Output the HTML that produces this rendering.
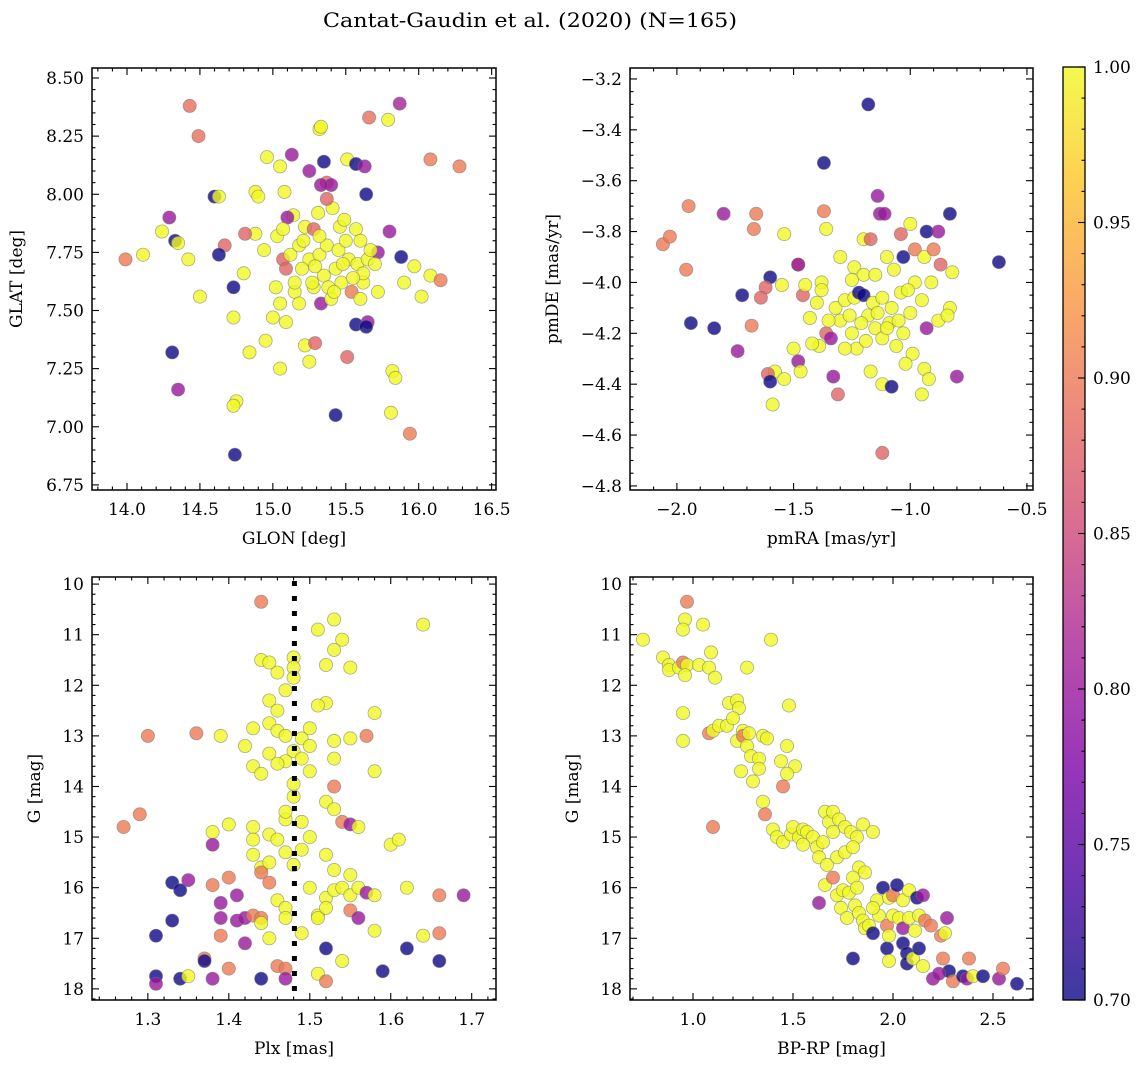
<!DOCTYPE html>
<html><head><meta charset="utf-8">
<style>
html,body{margin:0;padding:0;background:#fff;}
svg{display:block;font-family:"DejaVu Serif","Liberation Serif",serif;}
</style></head>
<body>
<svg id="fig" width="1148" height="1067" viewBox="0 0 1148 1067" xmlns="http://www.w3.org/2000/svg">
<defs>
<linearGradient id="plasma" x1="0" y1="1" x2="0" y2="0">
<stop offset="0" stop-color="#0d0887"/>
<stop offset="0.13" stop-color="#4c02a1"/>
<stop offset="0.25" stop-color="#7e03a8"/>
<stop offset="0.38" stop-color="#a82296"/>
<stop offset="0.5" stop-color="#cc4778"/>
<stop offset="0.63" stop-color="#e66c5c"/>
<stop offset="0.75" stop-color="#f89540"/>
<stop offset="0.88" stop-color="#fdc527"/>
<stop offset="1" stop-color="#f0f921"/>
</linearGradient>
</defs>
<text x="530" y="27" font-size="20" text-anchor="middle" textLength="414" lengthAdjust="spacingAndGlyphs">Cantat-Gaudin et al. (2020) (N=165)</text>
</svg>
<script>
// ---- data: panel 1 (GLON, GLAT, membership prob) ----
const glon1 = [14.43,14.49,15.87,15.66,15.79,15.32,15.33,16.08,16.28,15.13,14.96,15.25,15.35,15.51,15.57,15.63,15.05,14.60,14.63,14.88,14.90,15.08,15.37,15.40,15.33,15.64,15.41,15.37,15.31,15.14,15.10,14.29,14.24,14.88,14.81,15.03,15.07,15.22,15.28,15.46,15.49,15.57,15.60,15.80,14.33,14.35,14.67,14.63,14.42,14.11,13.99,14.80,14.94,15.07,15.12,15.18,15.25,15.32,15.37,15.45,15.52,15.58,15.65,15.72,15.88,15.97,16.08,16.15,14.73,14.50,15.05,15.15,15.28,15.33,15.40,15.47,15.54,15.62,15.72,15.90,16.02,15.00,14.73,15.09,15.22,15.29,15.57,15.65,15.64,14.95,14.84,14.31,15.51,15.25,15.05,15.82,15.84,14.35,14.75,14.73,15.43,15.81,15.94,14.74,15.20,15.35,15.43,15.27,15.48,15.62,15.15,15.38,15.42,15.55,15.67,15.50,15.29,15.21,15.09,15.60,15.32,15.02,15.18,15.70];
const glat1 = [8.38,8.25,8.39,8.33,8.32,8.28,8.29,8.15,8.12,8.17,8.16,8.10,8.14,8.15,8.13,8.12,8.12,7.99,7.99,8.01,7.99,8.01,8.05,8.04,8.04,8.00,7.94,7.98,7.92,7.91,7.90,7.90,7.84,7.83,7.83,7.82,7.85,7.86,7.85,7.86,7.89,7.85,7.80,7.84,7.80,7.79,7.78,7.74,7.72,7.74,7.72,7.66,7.76,7.72,7.74,7.78,7.72,7.74,7.78,7.76,7.72,7.70,7.72,7.75,7.73,7.69,7.65,7.63,7.60,7.56,7.53,7.58,7.60,7.53,7.55,7.62,7.58,7.62,7.58,7.62,7.56,7.47,7.47,7.45,7.35,7.36,7.44,7.45,7.43,7.37,7.32,7.32,7.30,7.28,7.25,7.24,7.21,7.16,7.11,7.09,7.05,7.06,6.97,6.88,7.68,7.65,7.68,7.62,7.70,7.66,7.62,7.60,7.58,7.64,7.76,7.80,7.69,7.80,7.68,7.55,7.82,7.60,7.53,7.70];
const prob1 = [0.89,0.89,0.81,0.89,1,1,1,0.9,0.9,0.8,1,0.8,0.7,1,0.7,0.8,1,0.7,1,1,1,1,0.88,0.8,0.8,0.7,1,0.88,1,1,0.8,0.8,1,1,0.88,1,1,1,0.88,1,1,1,1,0.8,0.7,1,0.88,0.7,1,1,0.9,1,1,0.88,1,1,1,1,1,1,1,1,1,0.8,0.7,1,1,0.9,0.7,1,1,1,1,0.8,1,1,0.9,1,1,1,1,1,1,1,1,0.88,0.7,0.8,0.7,1,1,0.7,0.88,1,1,1,1,0.8,1,1,0.7,1,0.9,0.7,1,1,1,1,1,1,1,1,1,1,1,1,1,1,0.88,1,1,1,1,1];
// ---- panel 2 (pmRA, pmDE) ----
const pmra2 = [-1.18,-1.37,-1.95,-1.80,-1.66,-1.37,-1.14,-1.13,-1.11,-2.06,-2.03,-1.67,-1.54,-1.36,-1.20,-1.17,-1.00,-0.93,-0.88,-0.83,-1.04,-0.62,-1.96,-1.60,-1.62,-1.48,-1.48,-1.38,-1.30,-1.24,-1.20,-1.15,-1.10,-1.07,-1.03,-0.98,-0.94,-0.90,-0.87,-0.82,-1.64,-1.72,-1.94,-1.84,-1.68,-1.55,-1.46,-1.40,-1.38,-1.32,-1.28,-1.24,-1.22,-1.20,-1.16,-1.12,-1.08,-1.04,-1.00,-0.95,-0.91,-0.88,-0.83,-0.84,-1.36,-1.34,-1.30,-1.25,-1.23,-1.19,-1.15,-1.12,-1.09,-1.06,-1.03,-0.99,-0.93,-1.39,-1.42,-1.50,-1.74,-1.48,-1.58,-1.61,-1.60,-1.47,-1.33,-1.17,-1.12,-1.08,-1.02,-0.94,-0.92,-0.80,-1.31,-1.59,-1.54,-1.12,-0.95,-1.18,-1.14,-1.26,-1.21,-1.10,-1.05,-1.28,-1.35,-1.43,-1.45,-1.25,-0.98,-1.01];
const pmde2 = [-3.30,-3.53,-3.70,-3.73,-3.73,-3.72,-3.66,-3.73,-3.73,-3.85,-3.82,-3.79,-3.81,-3.79,-3.83,-3.83,-3.77,-3.80,-3.80,-3.73,-3.81,-3.92,-3.95,-3.98,-4.02,-3.93,-3.93,-4.00,-3.90,-3.94,-3.97,-3.97,-3.90,-3.95,-3.90,-3.87,-3.90,-3.87,-3.93,-3.96,-4.06,-4.05,-4.16,-4.18,-4.17,-4.01,-4.05,-4.08,-4.03,-4.10,-4.07,-4.06,-4.04,-4.05,-4.08,-4.06,-4.10,-4.04,-4.12,-4.07,-4.00,-4.15,-4.10,-4.13,-4.20,-4.22,-4.15,-4.20,-4.26,-4.23,-4.18,-4.22,-4.16,-4.25,-4.20,-4.28,-4.18,-4.25,-4.24,-4.26,-4.27,-4.31,-4.35,-4.36,-4.39,-4.35,-4.37,-4.35,-4.40,-4.41,-4.32,-4.34,-4.38,-4.37,-4.44,-4.48,-4.38,-4.67,-4.44,-4.13,-4.12,-4.13,-4.16,-4.18,-4.15,-4.26,-4.15,-4.14,-4.01,-3.99,-4.00,-4.03];
const prob2 = [0.7,0.7,0.9,0.8,0.9,0.9,0.8,0.8,0.8,0.9,0.9,0.9,1,1,1,0.88,1,0.7,0.8,0.7,0.88,0.7,0.9,0.7,0.88,0.9,0.8,1,1,1,1,1,1,1,0.7,0.9,1,0.9,0.88,1,0.88,0.7,0.7,0.7,0.9,1,0.88,1,1,1,1,1,0.7,0.7,1,1,1,1,1,1,1,1,1,1,0.88,0.8,1,1,1,1,1,1,1,1,1,1,0.8,1,1,1,0.8,0.8,1,0.88,0.7,1,0.8,1,1,0.7,1,1,1,0.8,0.88,1,1,0.88,1,1,1,1,1,1,1,1,1,1,1,1,1,1];
// ---- panel 3 (Plx, G) ----
const plx3 = [1.44,1.64,1.53,1.51,1.54,1.53,1.48,1.52,1.44,1.45,1.48,1.48,1.46,1.55,1.47,1.52,1.51,1.45,1.46,1.58,1.39,1.43,1.45,1.46,1.47,1.49,1.50,1.53,1.55,1.57,1.30,1.36,1.42,1.48,1.50,1.43,1.45,1.47,1.49,1.44,1.46,1.53,1.58,1.48,1.53,1.27,1.29,1.38,1.40,1.43,1.43,1.45,1.47,1.47,1.49,1.50,1.52,1.53,1.54,1.55,1.56,1.38,1.43,1.44,1.45,1.47,1.49,1.52,1.53,1.55,1.60,1.61,1.33,1.34,1.35,1.38,1.40,1.41,1.39,1.44,1.45,1.46,1.47,1.50,1.52,1.53,1.54,1.55,1.56,1.57,1.58,1.62,1.66,1.69,1.39,1.41,1.42,1.43,1.44,1.44,1.39,1.42,1.47,1.51,1.52,1.55,1.56,1.58,1.64,1.66,1.31,1.33,1.37,1.37,1.40,1.46,1.47,1.51,1.52,1.54,1.59,1.62,1.66,1.31,1.31,1.34,1.35,1.38,1.44,1.47,1.52,1.48,1.50,1.46,1.48,1.51,1.49,1.45];
const g3 = [10.35,10.80,10.70,10.90,11.10,11.30,11.45,11.60,11.50,11.55,11.65,11.85,11.75,11.65,12.10,12.35,12.40,12.30,12.50,12.55,13.00,12.85,12.75,12.90,13.00,13.05,12.85,13.10,13.05,13.00,13.00,12.95,13.20,13.30,13.20,13.60,13.35,13.50,13.45,13.75,13.55,13.45,13.70,13.95,14.00,14.80,14.55,14.90,14.75,14.80,15.05,14.95,14.65,14.50,14.70,15.00,14.30,14.45,14.70,14.75,14.80,15.15,15.35,15.60,15.50,15.30,15.25,15.35,15.65,15.75,15.15,15.05,15.90,16.05,15.85,15.95,15.80,16.15,16.30,15.70,15.90,16.25,16.40,16.00,16.20,16.05,16.00,16.15,16.00,16.10,16.15,16.00,16.15,16.15,16.60,16.65,16.60,16.55,16.60,16.70,16.95,17.10,16.60,16.55,16.40,16.45,16.60,16.85,16.95,16.90,16.95,16.65,17.40,17.45,17.60,17.55,17.60,17.70,17.20,17.45,17.65,17.20,17.45,17.75,17.90,17.80,17.75,17.80,17.80,17.80,17.85,14.20,13.70,15.05,15.55,16.60,16.90,17.00];
const prob3 = [0.9,1,1,1,1,1,1,1,1,1,1,1,1,1,1,1,1,1,1,1,1,1,1,1,1,1,1,1,1,0.9,0.9,0.9,1,1,1,1,1,1,1,1,1,1,1,1,0.9,0.9,0.9,1,1,1,1,1,1,1,1,1,1,1,0.9,0.8,1,0.8,1,1,1,1,1,1,1,1,1,1,0.7,0.7,0.8,0.9,0.9,0.8,0.8,0.9,0.9,1,1,1,1,1,1,1,1,0.8,1,1,0.9,0.8,0.8,0.8,0.8,0.9,0.9,1,0.9,0.8,1,1,1,0.9,0.8,1,1,0.9,0.7,0.7,0.9,0.7,0.9,0.9,0.9,1,0.7,1,0.7,0.7,0.7,0.7,0.8,0.7,1,0.8,0.7,0.8,0.9,1,1,1,1,1,1,1];
const plxMean = 1.481;
// ---- panel 4 (BP-RP, G) ----
const bprp4 = [0.97,0.75,0.96,0.95,1.05,1.39,0.85,0.88,0.88,0.93,0.95,0.97,0.96,1.03,1.09,1.08,1.11,1.27,0.95,0.95,1.08,1.10,1.13,1.17,1.18,1.22,1.23,1.20,1.22,1.25,1.25,1.27,1.29,1.24,1.33,1.35,1.37,1.33,1.30,1.35,1.36,1.48,1.47,1.44,1.51,1.47,1.45,1.10,1.40,1.42,1.45,1.49,1.50,1.53,1.55,1.57,1.60,1.62,1.66,1.68,1.70,1.73,1.76,1.79,1.82,1.85,1.90,1.63,1.67,1.72,1.76,1.80,1.83,1.66,1.63,1.70,1.72,1.75,1.78,1.80,1.82,1.86,1.74,1.77,1.81,1.83,1.85,1.86,1.88,1.90,1.92,1.95,1.98,2.00,2.02,2.05,2.08,2.12,2.15,1.93,1.97,2.00,2.03,2.05,2.08,2.11,2.13,2.16,2.19,2.24,2.27,2.26,1.80,1.97,1.98,2.05,2.07,2.07,2.10,2.13,2.15,2.20,2.25,2.28,2.30,2.35,2.37,2.38,2.40,2.45,2.53,2.55,2.62,2.23,1.98,1.90,1.65,1.70,1.55,1.28];
const g4 = [10.35,11.10,10.70,10.90,10.80,11.10,11.45,11.60,11.70,11.65,11.55,11.60,11.80,11.60,11.35,11.65,11.85,11.65,12.55,13.10,12.95,12.90,12.80,12.80,12.35,12.30,12.45,12.65,13.10,12.90,13.00,13.20,13.40,13.70,13.45,13.00,13.05,13.65,13.90,14.30,14.55,12.40,13.20,13.50,13.60,13.75,14.00,14.80,14.85,15.00,15.10,14.95,14.80,15.00,14.85,14.90,15.00,15.20,14.50,14.70,14.50,14.65,14.80,14.90,15.00,14.75,14.90,15.40,15.55,15.40,15.30,15.20,15.60,15.95,16.30,15.80,16.15,16.05,16.10,15.80,16.00,15.70,16.40,16.60,16.35,16.50,16.65,16.80,16.75,16.90,16.25,16.00,16.20,16.15,15.95,16.25,16.05,16.20,16.15,16.55,16.75,16.55,16.60,16.80,16.60,16.85,16.55,16.65,16.75,16.95,16.60,16.90,17.40,17.20,17.45,17.10,17.30,17.50,17.40,17.20,17.55,17.80,17.40,17.65,17.85,17.75,17.80,17.40,17.75,17.75,17.80,17.60,17.90,17.70,16.95,16.40,15.10,14.90,15.15,12.95];
const prob4 = [0.9,1,1,1,1,1,1,1,1,1,0.9,1,1,1,1,1,1,1,1,1,0.9,1,1,1,1,1,1,1,1,1,0.9,1,1,1,1,1,1,1,1,1,0.9,1,1,1,1,1,0.9,0.9,1,1,1,1,1,1,1,1,1,1,1,1,1,1,1,1,1,1,1,1,1,1,1,1,1,1,0.8,0.9,1,1,1,1,1,1,1,1,1,1,1,1,1,0.7,1,0.7,1,0.9,0.7,1,1,0.7,0.8,1,0.9,1,1,0.8,1,1,1,0.9,0.9,0.9,0.8,1,0.7,0.7,1,0.7,0.7,0.7,1,0.7,1,0.8,0.9,0.7,0.9,0.7,0.8,0.9,1,0.7,0.8,0.9,0.7,0.8,1,1,1,1,1,1];
// ---- tick labels ----
const ticks1x = [14.0,14.5,15.0,15.5,16.0,16.5];
const ticks1y = [6.75,7.00,7.25,7.50,7.75,8.00,8.25,8.50];
const ticks2x = [-2.0,-1.5,-1.0,-0.5];
const ticks2y = [-4.8,-4.6,-4.4,-4.2,-4.0,-3.8,-3.6,-3.4,-3.2];
const ticks3x = [1.3,1.4,1.5,1.6,1.7];
const ticksGy = [10,11,12,13,14,15,16,17,18];
const ticks4x = [1.0,1.5,2.0,2.5];
const ticksCb = [0.70,0.75,0.80,0.85,0.90,0.95,1.00];

const NS = "http://www.w3.org/2000/svg";
const svg = document.getElementById('fig');
function mk(tag, attrs, parent){ const e=document.createElementNS(NS,tag); for(const k in attrs) e.setAttribute(k,attrs[k]); (parent||svg).appendChild(e); return e; }

const stops=[[0,[13,8,135]],[0.13,[76,2,161]],[0.25,[126,3,168]],[0.38,[168,34,150]],[0.5,[204,71,120]],[0.63,[230,108,92]],[0.75,[248,149,64]],[0.88,[253,197,39]],[1,[240,249,33]]];
function plasma(p){
  let t=Math.max(0,Math.min(1,(p-0.7)/0.3));
  for(let i=1;i<stops.length;i++){ if(t<=stops[i][0]){ const a=stops[i-1],b=stops[i]; const f=(t-a[0])/(b[0]-a[0]); const c=a[1].map((v,j)=>Math.round(v+(b[1][j]-v)*f)); return `rgb(${c[0]},${c[1]},${c[2]})`; } }
  return 'rgb(240,249,33)';
}
function fmt(v,d){ const s=Math.abs(v).toFixed(d); return (v<0?'\u2212':'')+s; }

function panel(cfg){
  const g=mk('g',{});
  
  
  const {x0,x1,y0,y1,dx,dy}=cfg;
  const sx=v=>x0+(v-dx[0])/(dx[1]-dx[0])*(x1-x0);
  const sy=v=>y0+(v-dy[0])/(dy[1]-dy[0])*(y1-y0);
  const pg=mk('g',{},g);
  
  
  for(let i=0;i<cfg.xs.length;i++){
    const c=mk('circle',{cx:sx(cfg.xs[i]).toFixed(1),cy:sy(cfg.ys[i]).toFixed(1),r:6.6,fill:plasma(cfg.ps[i]),'fill-opacity':0.8,stroke:'#777','stroke-opacity':0.6,'stroke-width':0.8},pg);
    
    
  }
  if(cfg.vline!==undefined){
    const l=mk('line',{x1:sx(cfg.vline),x2:sx(cfg.vline),y1:y0+4,y2:y1,stroke:'#000','stroke-width':5,'stroke-dasharray':'5 10'},g);
    
    
  }
  const fr=mk('rect',{x:x0,y:y0,width:x1-x0,height:y1-y0,fill:'none',stroke:'#000','stroke-width':1.5},g);
  
  
  const tg=mk('g',{stroke:'#000','stroke-width':1.1},g);
  const eps=1e-9;
  for(let v=Math.ceil(dx[0]/cfg.mx-eps)*cfg.mx; v<=dx[1]+eps; v+=cfg.mx){
    const X=sx(v); const major=cfg.tx.some(t=>Math.abs(t-v)<cfg.mx/3); const L=major?7:3.5;
    mk('line',{x1:X,x2:X,y1:y1,y2:y1-L},tg); mk('line',{x1:X,x2:X,y1:y0,y2:y0+L},tg);
  }
  const ylo=Math.min(...dy), yhi=Math.max(...dy);
  for(let v=Math.ceil(ylo/cfg.my-eps)*cfg.my; v<=yhi+eps; v+=cfg.my){
    const Y=sy(v); const major=cfg.ty.some(t=>Math.abs(t-v)<cfg.my/3); const L=major?7:3.5;
    mk('line',{x1:x0,x2:x0+L,y1:Y,y2:Y},tg); mk('line',{x1:x1,x2:x1-L,y1:Y,y2:Y},tg);
  }
  cfg.tx.forEach(t=>{ const e=mk('text',{x:sx(t),y:y1+25,'font-size':17,'text-anchor':'middle'},g); e.textContent=fmt(t,cfg.dxd);
      });
  cfg.ty.forEach(t=>{ const e=mk('text',{x:x0-8,y:sy(t)+6,'font-size':17,'text-anchor':'end'},g); e.textContent=fmt(t,cfg.dyd);
      });
  const xl=mk('text',{x:(x0+x1)/2,y:y1+54,'font-size':17,'text-anchor':'middle'},g); xl.textContent=cfg.xlabel;
   
  const yx=cfg.ylx, ym=(y0+y1)/2;
  const yl=mk('text',{x:yx,y:ym,'font-size':17,'text-anchor':'middle',transform:`rotate(-90 ${yx} ${ym})`},g); yl.textContent=cfg.ylabel;
   
}

panel({name:'glon-glat-panel',x0:92,x1:496,y0:68,y1:490,dx:[13.76,16.53],dy:[8.543,6.728],xs:glon1,ys:glat1,ps:prob1,tx:ticks1x,ty:ticks1y,mx:0.1,my:0.05,dxd:1,dyd:2,xlabel:'GLON [deg]',ylabel:'GLAT [deg]',ylx:22});
panel({name:'proper-motion-panel',x0:630,x1:1033,y0:68,y1:490,dx:[-2.201,-0.474],dy:[-3.157,-4.816],xs:pmra2,ys:pmde2,ps:prob2,tx:ticks2x,ty:ticks2y,mx:0.1,my:0.05,dxd:1,dyd:1,xlabel:'pmRA [mas/yr]',ylabel:'pmDE [mas/yr]',ylx:558});
panel({name:'parallax-magnitude-panel',x0:92,x1:496,y0:577,y1:1000,dx:[1.231,1.730],dy:[9.86,18.22],xs:plx3,ys:g3,ps:prob3,tx:ticks3x,ty:ticksGy,mx:0.02,my:0.2,dxd:1,dyd:0,xlabel:'Plx [mas]',ylabel:'G [mag]',ylx:40,vline:plxMean});
panel({name:'cmd-panel',x0:630,x1:1033,y0:577,y1:1000,dx:[0.685,2.70],dy:[9.86,18.22],xs:bprp4,ys:g4,ps:prob4,tx:ticks4x,ty:ticksGy,mx:0.1,my:0.2,dxd:1,dyd:0,xlabel:'BP-RP [mag]',ylabel:'G [mag]',ylx:578});

const cb=mk('g',{});


const cx0=1063,cx1=1085,cy0=67,cy1=1000;
mk('rect',{x:cx0,y:cy0,width:cx1-cx0,height:cy1-cy0,fill:'url(#plasma)','fill-opacity':0.8},cb);
mk('rect',{x:cx0,y:cy0,width:cx1-cx0,height:cy1-cy0,fill:'none',stroke:'#000','stroke-width':1.3},cb);
const csy=v=>cy1-(v-0.7)/0.3*(cy1-cy0);
for(let k=70;k<=100;k++){ const v=k/100; const major=k%5===0; const Y=csy(v);
  mk('line',{x1:cx1,x2:cx1-(major?7:3.5),y1:Y,y2:Y,stroke:'#000','stroke-width':1.1},cb); }
ticksCb.forEach(t=>{ const e=mk('text',{x:cx1+8,y:csy(t)+6,'font-size':17},cb); e.textContent=t.toFixed(2);
    });
</script>
</body></html>
